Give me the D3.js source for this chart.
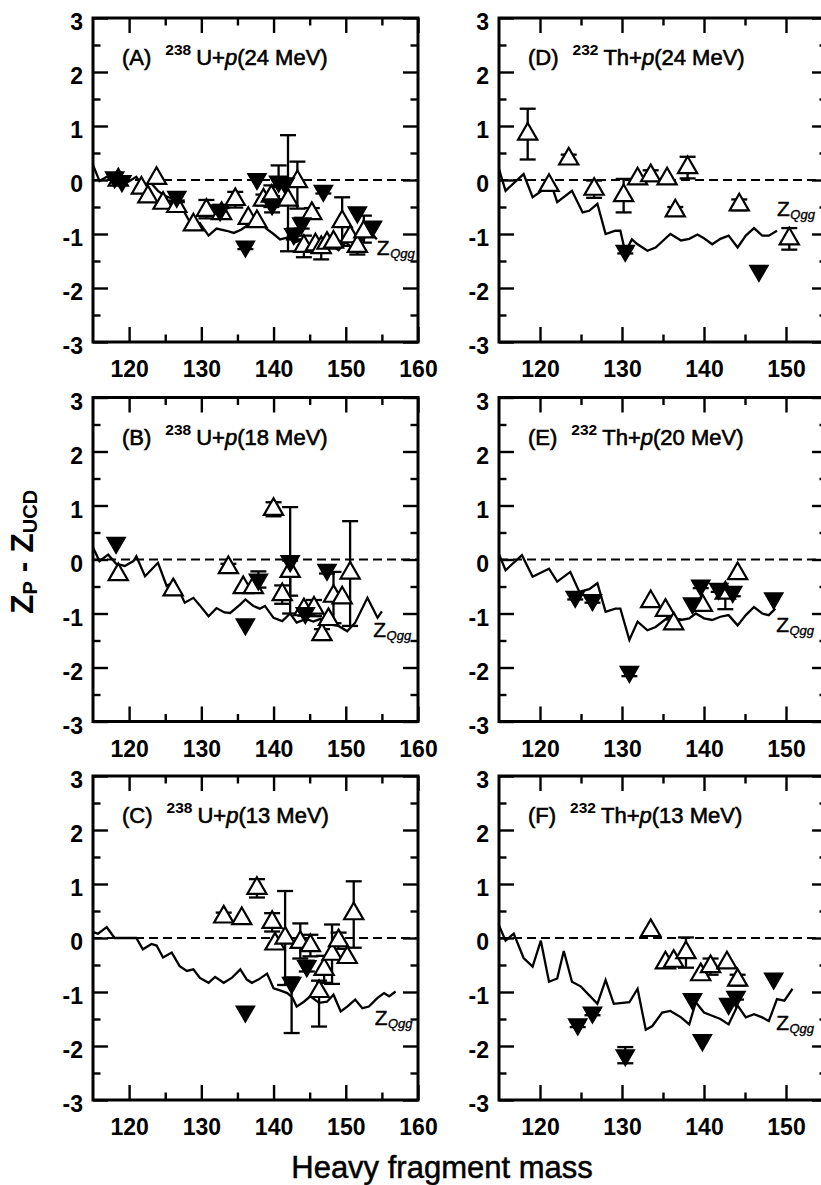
<!DOCTYPE html>
<html>
<head>
<meta charset="utf-8">
<script src="https://cdn.jsdelivr.net/npm/d3@7"></script>
<style>
  html, body { margin: 0; padding: 0; background: #fff; }
  svg { display: block; }
  text { font-family: "Liberation Sans", Arial, Helvetica, sans-serif; fill: #000; }
</style>
</head>
<body>
<svg id="chart" width="821" height="1185"></svg>
<script>
// ---- panel titles and ticks ----
const panelLetters = ["A", "B", "C", "D", "E", "F"];
const massNumbers  = ["238", "238", "238", "232", "232", "232"];
const targets      = ["U", "U", "U", "Th", "Th", "Th"];
const energies     = ["24", "18", "13", "24", "20", "13"];
const xTicksU = [120, 130, 140, 150, 160];
const xTicksTh = [120, 130, 140, 150];
const yTicks = [-3, -2, -1, 0, 1, 2, 3];
const xAxisTitle = "Heavy fragment mass";

// ---- measured points: [mass, Zp - Zucd, lower error, upper error] ----
// open up-triangles
const openA = [
  [118.5, 0.0, 0, 0], [121.7, -0.15, 0, 0], [122.6, -0.31, 0, 0], [123.8, 0.03, 0, 0],
  [124.7, -0.43, 0, 0], [126.6, -0.49, 0.08, 0.08], [128.9, -0.83, 0, 0],
  [130.7, -0.56, 0.15, 0.19], [132.8, -0.62, 0.1, 0.1], [134.7, -0.36, 0.15, 0.14],
  [136.5, -0.71, 0, 0], [137.7, -0.77, 0, 0], [138.6, -0.37, 0.1, 0.1],
  [139.7, -0.3, 0.2, 0.2], [142.0, -0.37, 0.95, 1.2], [143.3, -0.03, 0.5, 0.37],
  [145.3, -0.62, 0.1, 0.1], [144.2, -1.23, 0.2, 0.2], [145.8, -1.2, 0, 0],
  [146.6, -1.25, 0.22, 0.1], [147.4, -1.17, 0, 0], [148.3, -1.15, 0, 0],
  [149.5, -0.77, 0.45, 0.45], [150.6, -1.05, 0, 0], [151.6, -1.23, 0.15, 0.15],
  [152.5, -0.96, 0.2, 0.3]
];
const openB = [
  [118.5, -0.28, 0, 0], [126.1, -0.56, 0, 0], [133.75, -0.15, 0.07, 0.07],
  [135.8, -0.52, 0, 0], [137.2, -0.52, 0, 0], [140.0, 0.93, 0.13, 0.13],
  [141.2, -0.65, 0.17, 0.17], [142.3, -0.22, 0.45, 0.2], [144.2, -0.93, 0, 0],
  [145.6, -0.9, 0.15, 0.15], [146.7, -1.39, 0.1, 0.1], [147.6, -1.11, 0, 0],
  [148.3, -0.68, 0.5, 0.45], [149.5, -0.71, 0, 0], [150.6, -0.25, 0.98, 0.96]
];
const openC = [
  [133.1, 0.39, 0.08, 0.08], [135.6, 0.36, 0, 0], [137.7, 0.92, 0.17, 0.17],
  [139.8, 0.29, 0.17, 0.17], [140.2, -0.11, 0, 0], [141.6, 0.0, 0.87, 0.87],
  [143.7, -0.08, 0.3, 0.35], [145.1, -0.14, 0.2, 0.2], [146.3, -0.99, 0.65, 0.2],
  [147.0, -0.58, 0.25, 0.25], [148.1, -0.3, 0.55, 0.55], [149.0, -0.05, 0.15, 0.15],
  [150.2, -0.36, 0, 0], [151.1, 0.45, 0.63, 0.6]
];
const openD = [
  [118.5, 0.85, 0.47, 0.47], [121.1, -0.1, 0, 0], [123.5, 0.39, 0.08, 0.08],
  [126.6, -0.17, 0.16, 0.16], [130.2, -0.29, 0.31, 0.31], [131.9, 0.02, 0, 0],
  [133.5, 0.08, 0.1, 0.1], [135.5, 0.02, 0, 0], [136.5, -0.57, 0.07, 0.07],
  [138.0, 0.23, 0.2, 0.2], [144.3, -0.46, 0.1, 0.1], [150.4, -1.09, 0.2, 0.2]
];
const openE = [
  [133.5, -0.78, 0, 0], [135.3, -0.94, 0, 0], [136.3, -1.19, 0.08, 0.08],
  [139.8, -0.85, 0, 0], [142.6, -0.62, 0.3, 0.1], [144.1, -0.26, 0, 0]
];
const openF = [
  [133.5, 0.14, 0, 0], [135.3, -0.46, 0, 0], [136.3, -0.43, 0, 0],
  [137.8, -0.27, 0.28, 0.28], [139.6, -0.68, 0, 0], [140.8, -0.53, 0.15, 0.15],
  [142.8, -0.46, 0, 0], [144.1, -0.78, 0.1, 0.1]
];

// filled down-triangles
const filledA = [
  [118.0, 0.05, 0, 0], [119.0, -0.02, 0, 0], [126.6, -0.31, 0.07, 0.07],
  [132.6, -0.56, 0.1, 0.1], [136.1, -1.23, 0.05, 0.05], [137.7, 0.02, 0, 0],
  [139.8, -0.45, 0.15, 0.15], [140.7, -0.03, 0.1, 0.3], [141.6, -0.06, 0, 0],
  [142.8, -1.0, 0.1, 0.1], [143.9, -0.8, 0.1, 0.1], [146.9, -0.2, 0.05, 0.05],
  [151.6, -0.6, 0, 0], [153.7, -0.86, 0, 0]
];
const filledB = [
  [118.2, 0.31, 0, 0], [136.1, -1.2, 0, 0], [137.9, -0.37, 0.15, 0.15],
  [142.3, -0.03, 0.97, 1.0], [144.4, -0.99, 0.05, 0.05], [147.4, -0.19, 0.07, 0.07]
];
const filledC = [
  [136.1, -1.36, 0, 0], [142.5, -0.83, 0.93, 0.1], [144.6, -0.52, 0.1, 0.1]
];
const filledD = [
  [130.4, -1.31, 0.05, 0.05], [146.7, -1.68, 0, 0]
];
const filledE = [
  [124.3, -0.69, 0.05, 0.05], [126.4, -0.75, 0.05, 0.05], [130.9, -2.08, 0.08, 0.08],
  [138.6, -0.81, 0, 0], [139.6, -0.48, 0.05, 0.05], [141.8, -0.54, 0.06, 0.06],
  [143.5, -0.6, 0.08, 0.08], [148.5, -0.72, 0, 0]
];
const filledF = [
  [124.6, -1.6, 0.05, 0.05], [126.4, -1.38, 0.05, 0.05], [130.4, -2.17, 0.15, 0.15],
  [138.6, -1.13, 0, 0], [139.8, -1.89, 0, 0], [143.0, -1.22, 0, 0],
  [143.9, -1.09, 0.05, 0.05], [148.5, -0.75, 0, 0]
];

// ---- Z_Qgg calculation: [mass, Zp - Zucd] ----
const zqggA = [
  [115, 0.28], [115.9, -0.02], [116.9, 0.06], [117.6, 0.0], [118.5, 0.05], [119.9, -0.03],
  [121, 0.06], [121.8, -0.1], [123, -0.05], [124, -0.2], [125, -0.3], [126.2, -0.35],
  [127.5, -0.56], [128.9, -0.9], [129.8, -0.8], [131, -1.03], [132.1, -0.9], [133.5, -0.94],
  [134.5, -0.98], [135.5, -0.92], [136.8, -0.8], [137.9, -0.72], [139, -0.9], [140, -1.0],
  [140.9, -1.1], [142.1, -1.06], [143, -1.15], [144, -1.1], [145, -1.22], [146, -1.15],
  [147, -1.25], [148, -1.2], [149, -1.3], [150, -1.15], [151, -1.28], [152, -1.15],
  [153.4, -0.95], [154.3, -1.1]
];
const zqggB = [
  [115, 0.22], [115.9, -0.03], [117.1, 0.09], [118.2, -0.08], [119.4, -0.12], [120.6, -0.03],
  [121, 0.06], [122.2, -0.31], [124, -0.06], [125.2, -0.49], [126.3, -0.4], [127.7, -0.8],
  [128.9, -0.71], [129.8, -0.85], [131, -1.05], [132.1, -0.9], [133.2, -0.98], [134, -0.99],
  [135.4, -0.83], [136.1, -0.74], [137.2, -0.86], [138.1, -0.91], [138.8, -0.86], [140, -1.08],
  [141.2, -1.14], [142.3, -1.0], [143.2, -1.17], [144.5, -1.1], [145.5, -1.15], [146.5, -1.1],
  [147.6, -1.2], [149, -1.23], [150.2, -1.33], [151.3, -1.17], [153, -0.71], [154.4, -1.08],
  [155, -0.96]
];
const zqggC = [
  [115, 0.11], [115.7, 0.08], [116.9, 0.2], [118, 0.0], [121, 0.0], [121.9, -0.21],
  [123.1, -0.11], [123.8, -0.14], [124.7, -0.36], [125.9, -0.27], [127, -0.52], [128, -0.61],
  [128.9, -0.58], [129.8, -0.74], [131, -0.83], [131.9, -0.72], [133.1, -0.83], [134.2, -0.74],
  [135.4, -0.58], [136.3, -0.77], [137, -0.83], [137.9, -0.77], [139.1, -0.66], [140, -0.93],
  [140.9, -0.97], [141.9, -1.02], [142.6, -1.1], [143.2, -1.27], [144.2, -1.18], [145.1, -1.08],
  [146.3, -1.2], [147.4, -1.18], [148.3, -1.05], [149.3, -1.36], [150.2, -1.27], [151.3, -1.14],
  [152.3, -1.3], [153.2, -1.27], [154.4, -1.11], [155.3, -1.02], [156, -1.08], [156.9, -0.99]
];
const zqggD = [
  [115, 0.2], [115.8, -0.2], [118, 0.11], [119.1, -0.32], [120.5, -0.17], [121.3, -0.05],
  [122.1, -0.41], [123.9, -0.2], [125.2, -0.6], [126, -0.57], [127, -0.44], [128, -1.0],
  [129.2, -0.94], [129.8, -0.94], [130.4, -1.34], [131.2, -1.1], [131.9, -1.19], [133.1, -1.31],
  [134.1, -1.25], [135.9, -1.0], [137.2, -1.12], [138.2, -1.09], [139.2, -1.01], [140, -1.08],
  [141, -1.19], [142, -1.09], [143, -1.03], [144.1, -1.25], [145.1, -1.03], [146.1, -0.89],
  [147.1, -1.03], [147.9, -1.03], [148.9, -0.94]
];
const zqggE = [
  [115, 0.1], [115.8, -0.2], [117.8, 0.08], [119.1, -0.32], [121.1, -0.17], [122.1, -0.41],
  [123.7, -0.23], [124.8, -0.6], [126, -0.55], [127, -0.44], [128, -0.97], [129.2, -0.91],
  [129.8, -0.91], [130.9, -1.49], [131.9, -1.15], [133.1, -1.31], [134.1, -1.25], [135.7, -1.06],
  [137.2, -1.12], [138.2, -1.09], [139, -1.0], [140, -1.09], [141, -1.12], [142, -1.06],
  [143, -1.03], [144.1, -1.22], [145.1, -1.03], [146.1, -0.88], [147.1, -1.0], [147.9, -1.03],
  [148.7, -0.91]
];
const zqggF = [
  [115, 0.23], [115.8, -0.05], [116.8, 0.08], [118, -0.37], [119.1, -0.53], [120.1, -0.05],
  [121.1, -0.81], [122.1, -0.75], [122.9, -0.24], [123.9, -0.81], [125, -0.9], [127, -1.22],
  [128, -0.78], [129, -1.22], [130.9, -1.19], [131.9, -0.94], [132.9, -1.7], [133.7, -1.63],
  [134.9, -1.38], [135.9, -1.35], [137.2, -1.47], [138.2, -1.6], [139, -1.19], [140, -1.38],
  [141, -1.44], [142, -1.5], [143, -1.6], [144.1, -1.25], [145.1, -1.47], [146.1, -1.41],
  [147.1, -1.47], [147.9, -1.54], [148.9, -1.13], [149.8, -1.16], [150.8, -0.94]
];

const openSets = [openA, openB, openC, openD, openE, openF];
const filledSets = [filledA, filledB, filledC, filledD, filledE, filledF];
const zqggSets = [zqggA, zqggB, zqggC, zqggD, zqggE, zqggF];

// ---- panel geometry (pixels) and Z_Qgg label anchor (data units) ----
const layout = [
  { left: 93,  right: 418, top: 18,    bottom: 342,   xMax: 160, ticks: xTicksU,  zLabel: [154.3, -1.39] },
  { left: 93,  right: 418, top: 397.5, bottom: 721.5, xMax: 160, ticks: xTicksU,  zLabel: [153.8, -1.43] },
  { left: 93,  right: 418, top: 776,   bottom: 1100,  xMax: 160, ticks: xTicksU,  zLabel: [154.0, -1.61] },
  { left: 499, right: 827, top: 18,    bottom: 342,   xMax: 155, ticks: xTicksTh, zLabel: [148.9, -0.67] },
  { left: 499, right: 827, top: 397.5, bottom: 721.5, xMax: 155, ticks: xTicksTh, zLabel: [148.8, -1.35] },
  { left: 499, right: 827, top: 776,   bottom: 1100,  xMax: 155, ticks: xTicksTh, zLabel: [148.8, -1.70] }
];

const svg = d3.select("#chart");
const triOpen = d3.symbol().type(d3.symbolTriangle).size(160)();
const triFilled = d3.symbol().type(d3.symbolTriangle).size(145)();

const yMinor = d3.range(-2.5, 3, 1);

layout.forEach((L, i) => {
  const x = d3.scaleLinear().domain([115, L.xMax]).range([L.left, L.right]);
  const y = d3.scaleLinear().domain([-3, 3]).range([L.bottom, L.top]);
  const xMinor = d3.range(125, L.xMax, 10);
  const g = svg.append("g");

  // axes: inward major and minor ticks on all four sides
  const styleAxis = sel => {
    sel.select(".domain").remove();
    sel.selectAll(".tick line").attr("stroke", "#000").attr("stroke-width", 2.4);
    sel.attr("font-family", null).attr("font-size", null);
  };
  g.append("g").attr("transform", `translate(${L.left},0)`)
    .call(d3.axisLeft(y).tickValues(yTicks).tickSizeInner(-15).tickSizeOuter(0)
      .tickPadding(10).tickFormat(d => String(d)))
    .call(styleAxis)
    .selectAll("text").attr("dy", "0.5em")
    .style("font-size", "23px").style("font-weight", "bold");
  g.append("g").attr("transform", `translate(${L.left},0)`)
    .call(d3.axisLeft(y).tickValues(yMinor).tickSizeInner(-7.5).tickSizeOuter(0).tickFormat(""))
    .call(styleAxis);
  g.append("g").attr("transform", `translate(${L.right},0)`)
    .call(d3.axisRight(y).tickValues(yTicks).tickSizeInner(-15).tickSizeOuter(0).tickFormat(""))
    .call(styleAxis);
  g.append("g").attr("transform", `translate(${L.right},0)`)
    .call(d3.axisRight(y).tickValues(yMinor).tickSizeInner(-7.5).tickSizeOuter(0).tickFormat(""))
    .call(styleAxis);
  g.append("g").attr("transform", `translate(0,${L.bottom})`)
    .call(d3.axisBottom(x).tickValues(L.ticks).tickSizeInner(-15).tickSizeOuter(0)
      .tickPadding(19).tickFormat(d => String(d)))
    .call(styleAxis)
    .selectAll("text").style("font-size", "23px").style("font-weight", "bold");
  g.append("g").attr("transform", `translate(0,${L.bottom})`)
    .call(d3.axisBottom(x).tickValues(xMinor).tickSizeInner(-7.5).tickSizeOuter(0).tickFormat(""))
    .call(styleAxis);
  g.append("g").attr("transform", `translate(0,${L.top})`)
    .call(d3.axisTop(x).tickValues(L.ticks).tickSizeInner(-15).tickSizeOuter(0).tickFormat(""))
    .call(styleAxis);
  g.append("g").attr("transform", `translate(0,${L.top})`)
    .call(d3.axisTop(x).tickValues(xMinor).tickSizeInner(-7.5).tickSizeOuter(0).tickFormat(""))
    .call(styleAxis);

  // zero reference
  g.append("line")
    .attr("x1", L.left).attr("x2", L.right).attr("y1", y(0)).attr("y2", y(0))
    .attr("stroke", "#000").attr("stroke-width", 2.2).attr("stroke-dasharray", "9,5");

  // Z_Qgg curve
  g.append("path").datum(zqggSets[i])
    .attr("d", d3.line().x(d => x(d[0])).y(d => y(d[1])))
    .attr("fill", "none").attr("stroke", "#000").attr("stroke-width", 2.3)
    .attr("stroke-linejoin", "miter");

  // error bars
  const withErr = openSets[i].concat(filledSets[i]).filter(d => d[2] > 0 || d[3] > 0);
  const eb = g.append("g").attr("stroke", "#000").attr("stroke-width", 2.3);
  withErr.forEach(d => {
    const x0 = x(d[0]), yLo = y(d[1] - d[2]), yHi = y(d[1] + d[3]);
    eb.append("line").attr("x1", x0).attr("x2", x0).attr("y1", yLo).attr("y2", yHi);
    eb.append("line").attr("x1", x0 - 8).attr("x2", x0 + 8).attr("y1", yLo).attr("y2", yLo);
    eb.append("line").attr("x1", x0 - 8).attr("x2", x0 + 8).attr("y1", yHi).attr("y2", yHi);
  });

  // open triangles
  g.append("g").selectAll("path").data(openSets[i]).join("path")
    .attr("d", triOpen)
    .attr("transform", d => `translate(${x(d[0])},${y(d[1])})`)
    .attr("fill", "#fff").attr("stroke", "#000").attr("stroke-width", 2.2);

  // filled triangles
  g.append("g").selectAll("path").data(filledSets[i]).join("path")
    .attr("d", triFilled)
    .attr("transform", d => `translate(${x(d[0])},${y(d[1])}) rotate(180)`)
    .attr("fill", "#000").attr("stroke", "#000").attr("stroke-width", 1.5);

  // frame
  g.append("rect")
    .attr("x", L.left).attr("y", L.top)
    .attr("width", L.right - L.left).attr("height", L.bottom - L.top)
    .attr("fill", "none").attr("stroke", "#000").attr("stroke-width", 3);

  // panel title
  const t = g.append("text")
    .attr("x", L.left + 29).attr("y", L.top + 47)
    .style("font-size", "22px")
    .attr("stroke", "#000").attr("stroke-width", 0.6);
  t.append("tspan").text(`(${panelLetters[i]})`);
  t.append("tspan").attr("dx", 14).attr("dy", -10).style("font-size", "15.5px")
    .style("font-weight", "bold").attr("stroke-width", 0).text(massNumbers[i]);
  t.append("tspan").attr("dx", 5).attr("dy", 10).text(`${targets[i]}+`);
  t.append("tspan").style("font-style", "italic").text("p");
  t.append("tspan").text(`(${energies[i]} MeV)`);

  // Z_Qgg label
  const z = g.append("text")
    .attr("x", x(L.zLabel[0])).attr("y", y(L.zLabel[1]))
    .style("font-size", "21px")
    .attr("stroke", "#000").attr("stroke-width", 0.4);
  z.append("tspan").text("Z");
  z.append("tspan").attr("dx", 0.5).attr("dy", 3).style("font-size", "13px")
    .style("font-style", "italic").attr("stroke-width", 0.35).text("Qgg");
});

// axis titles
const yt = svg.append("text")
  .attr("transform", "translate(33,552) rotate(-90)")
  .attr("text-anchor", "middle")
  .style("font-size", "32px").style("font-weight", "bold");
yt.append("tspan").text("Z");
yt.append("tspan").attr("dy", 4).style("font-size", "20px").text("P");
yt.append("tspan").attr("dy", -4).text(" - Z");
yt.append("tspan").attr("dy", 4).style("font-size", "20px").text("UCD");

svg.append("text")
  .attr("x", 442).attr("y", 1178)
  .attr("text-anchor", "middle")
  .style("font-size", "31px")
  .attr("stroke", "#000").attr("stroke-width", 0.5)
  .text(xAxisTitle);
</script>
</body>
</html>
